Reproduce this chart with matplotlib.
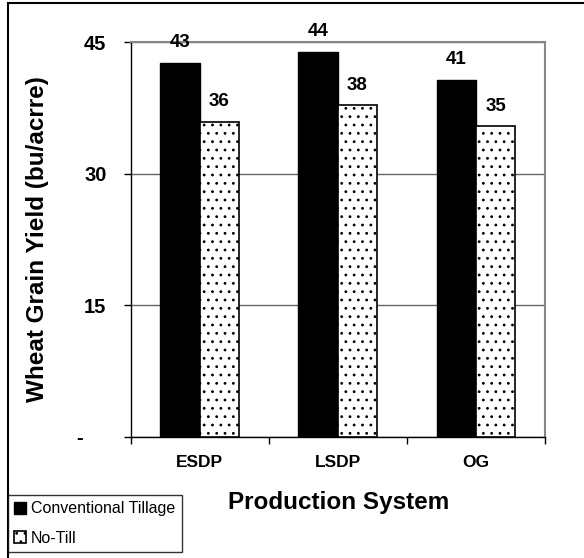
import matplotlib
matplotlib.use("Agg")
import matplotlib.pyplot as plt
import numpy as np
from matplotlib.patches import Rectangle
from matplotlib.transforms import ScaledTranslation

plt.rcParams['font.family'] = ['Liberation Sans', 'DejaVu Sans']
plt.rcParams['hatch.linewidth'] = 0.8
plt.rcParams['hatch.color'] = '#3a3a3a'

# Data
systems = ["ESDP", "LSDP", "OG"]
conventional = [42.6, 43.9, 40.7]
no_till = [35.9, 37.8, 35.4]
series_names = ["Conventional Tillage", "No-Till"]
y_ticks = [0, 15, 30, 45]
y_tick_labels = ["-", "15", "30", "45"]

W, H = 584, 558
fig = plt.figure(figsize=(W / 100, H / 100), dpi=100)
ax = fig.add_axes([130.7 / W, 1 - 436.7 / H, (545 - 130.7) / W, (436.7 - 42) / H])

x = np.arange(len(systems))
bw = 0.285
b1 = ax.bar(x - bw / 2, conventional, bw, color="black", edgecolor="black",
            linewidth=1, zorder=3, label=series_names[0])
b2 = ax.bar(x + bw / 2, no_till, bw, color="white", edgecolor="black",
            hatch="..", linewidth=1.2, zorder=3, label=series_names[1])

for bars, vals in ((b1, conventional), (b2, no_till)):
    for rect, v in zip(bars, vals):
        ax.annotate(f"{v:.0f}", (rect.get_x() + rect.get_width() / 2, v),
                    xytext=(0, 14.5), textcoords="offset points",
                    ha="center", va="center", fontsize=13.5, fontweight="bold")

ax.set_xlim(-0.5, len(systems) - 0.5)
ax.set_ylim(0, 45)
ax.set_yticks(y_ticks)
ax.set_yticklabels(y_tick_labels, fontsize=14.5, fontweight="bold")
ax.set_xticks(x)
ax.set_xticklabels(systems, fontsize=12.5, fontweight="bold")
ax.set_xticks(np.arange(len(systems) + 1) - 0.5, minor=True)
ax.tick_params(axis="x", which="major", length=0, pad=13)
ax.tick_params(axis="x", which="minor", length=5, width=1, color="black")
ax.tick_params(axis="y", length=5, width=1, pad=12.5, color="black")

# the zero label (a dash) sits further left, accounting style
zero_label = ax.yaxis.get_major_ticks()[0].label1
zero_label.set_transform(zero_label.get_transform() +
                         ScaledTranslation(-0.24, 0, fig.dpi_scale_trans))

ax.yaxis.grid(True, color="#666666", linewidth=1, zorder=0)
for side in ("left", "bottom"):
    ax.spines[side].set_color("black")
    ax.spines[side].set_linewidth(1)
for side in ("top", "right"):
    ax.spines[side].set_color("#888888")
    ax.spines[side].set_linewidth(1.5)

fig.text(38 / W, 1 - 239 / H, "Wheat Grain Yield (bu/acrre)", fontsize=17.5,
         fontweight="bold", rotation=90, ha="center", va="center")
fig.text(338.5 / W, 1 - 503 / H, "Production System", fontsize=17.5,
         fontweight="bold", ha="center", va="center")

leg = fig.legend(handles=[b1, b2], loc="lower left",
                 bbox_to_anchor=(8 / W, 1 - 552 / H), borderaxespad=0,
                 fontsize=11.5, frameon=True, fancybox=False, edgecolor="black",
                 handlelength=0.75, handleheight=0.75, handletextpad=0.3,
                 labelspacing=0.9, borderpad=0.4)
leg.get_frame().set_linewidth(1)

# outer frame around the chart
fig.add_artist(Rectangle((8 / W, -0.2), 1.2, 1.2 - 3 / H, transform=fig.transFigure,
                         fill=False, edgecolor="black", linewidth=1.5, clip_on=False))

fig.savefig("out.png", dpi=100)
